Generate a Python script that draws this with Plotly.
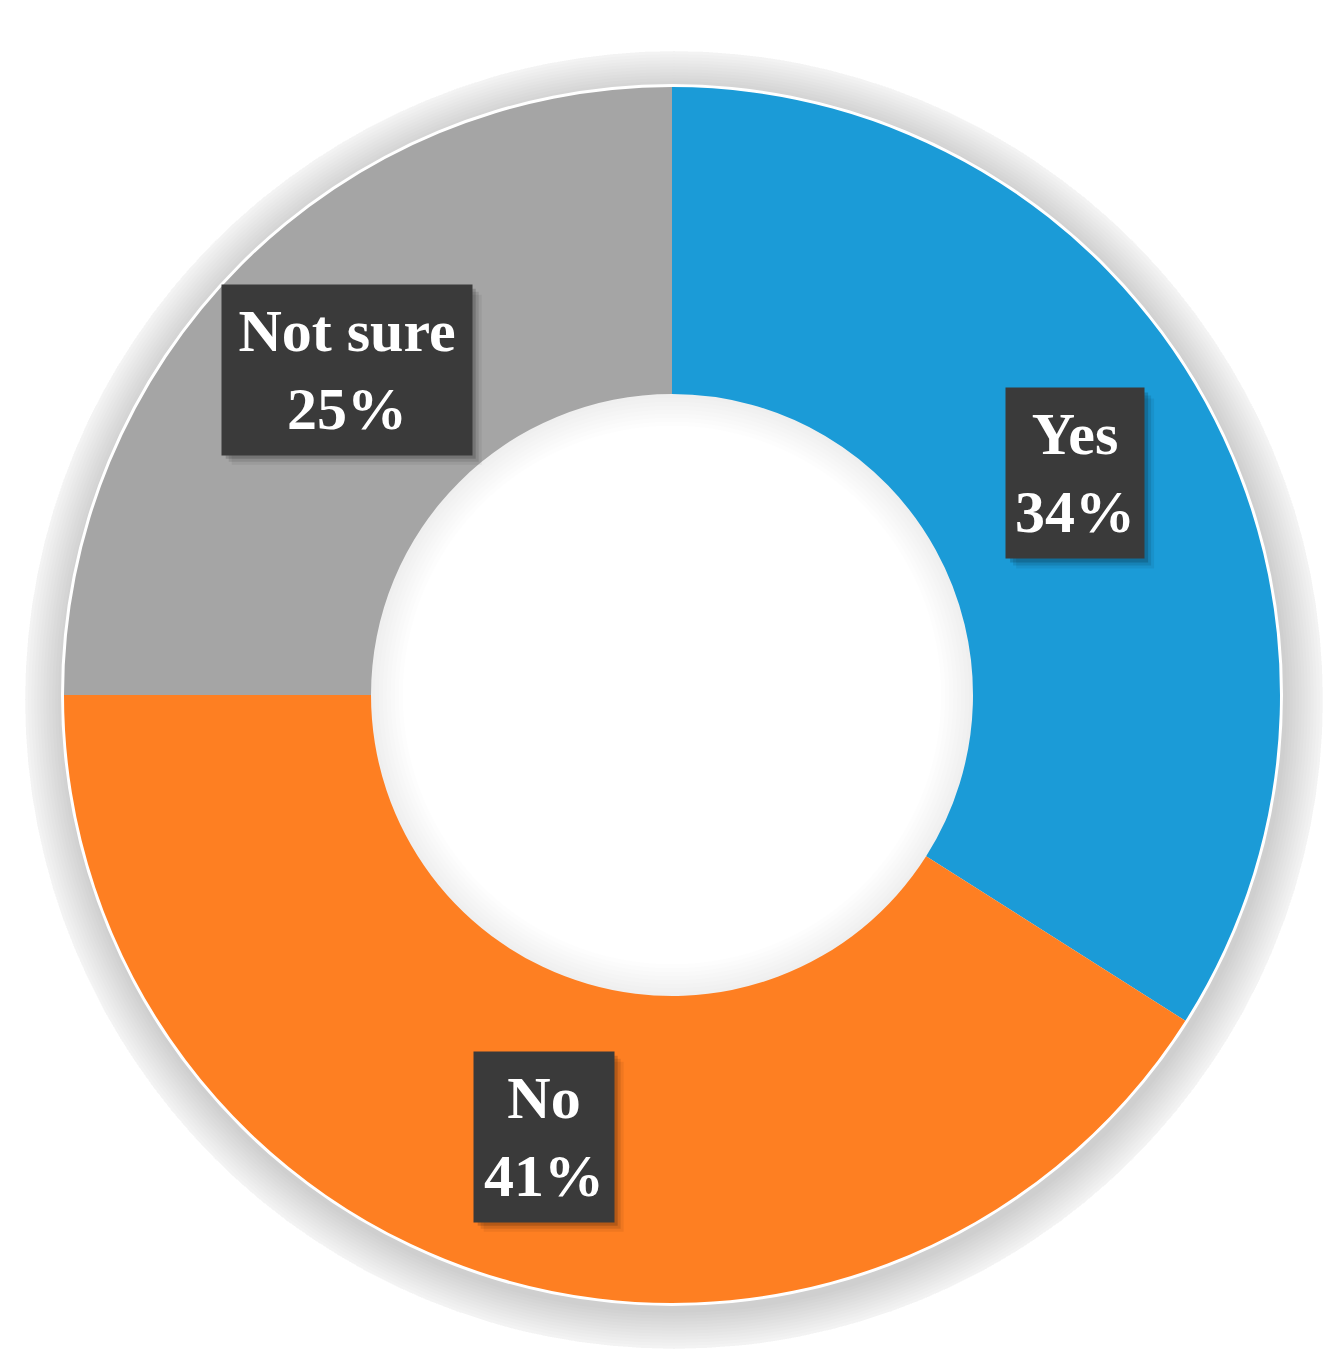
import math

import plotly.graph_objects as go

# Datos
labels = ["Yes", "No", "Not sure"]
values = [34, 41, 25]
slice_colors = ["#1b9bd7", "#fe7f22", "#a5a5a5"]

# Geometria (pixeles de la pagina; el body del html tiene margen de 8 px)
PAGE_W, PAGE_H = 1331, 1366
BODY_MARGIN = 8
W, H = PAGE_W - 2 * BODY_MARGIN, PAGE_H - 2 * BODY_MARGIN
CX, CY = 672 - BODY_MARGIN, 695 - BODY_MARGIN   # centro del donut (y desde arriba)
R_OUT = 608
R_HOLE = 301
R_LABEL = 460
BOX_H = 170
BOX_W = {"Yes": 138, "No": 140, "Not sure": 250}


def _domain(cx, cy, r):
    # recorta el radio para que el dominio quede dentro de [0, 1]
    r = min(r, cx, W - cx, cy, H - cy)
    return dict(x=[(cx - r) / W, (cx + r) / W],
                y=[(H - cy - r) / H, (H - cy + r) / H]), r


def _ring(cx, cy, r_out, r_in, color):
    dom, r = _domain(cx, cy, r_out)
    return go.Pie(
        values=[1], labels=["_"], sort=False,
        marker=dict(colors=[color], line=dict(width=0)),
        hole=max(r_in, 0) / r, domain=dom,
        textinfo="none", hoverinfo="skip", showlegend=False,
    )


fig = go.Figure()

# Sombra difusa exterior: anillos semitransparentes
for k in range(16, 0, -1):
    fig.add_trace(_ring(CX + 2, CY + 5, R_OUT + 2 + 3 * k, R_HOLE + 20,
                        "rgba(0,0,0,0.010)"))

# Sombra interior del agujero (se ve a traves del hueco)
for k in range(1, 9):
    fig.add_trace(_ring(CX, CY, R_HOLE + 2, R_HOLE - 4 * k,
                        "rgba(0,0,0,0.007)"))

# Borde blanco fino alrededor del donut
fig.add_trace(_ring(CX, CY, R_OUT + 3, R_HOLE + 20, "white"))

# Donut principal
dom, r = _domain(CX, CY, R_OUT)
fig.add_trace(go.Pie(
    labels=labels, values=values, sort=False,
    direction="clockwise", rotation=0,
    marker=dict(colors=slice_colors, line=dict(width=0)),
    hole=R_HOLE / r, domain=dom,
    textinfo="none", hovertemplate="%{label}: %{percent}<extra></extra>",
    showlegend=False,
))

# Etiquetas en cajas oscuras, centradas en el angulo medio de cada porcion
total = sum(values)
start = 0.0
for lab, val in zip(labels, values):
    frac = val / total
    mid = (start + frac / 2) * 2 * math.pi
    start += frac
    px = CX + R_LABEL * math.sin(mid)
    py = CY - R_LABEL * math.cos(mid)
    bw = BOX_W[lab]

    # sombra suave de la caja (rectangulos desplazados)
    for shift, alpha in [(10, 0.06), (7, 0.10), (4, 0.16)]:
        fig.add_shape(
            type="rect", xref="paper", yref="paper", layer="above",
            x0=(px - bw / 2 + shift) / W, x1=(px + bw / 2 + shift) / W,
            y0=(H - (py + BOX_H / 2 + shift)) / H,
            y1=(H - (py - BOX_H / 2 + shift)) / H,
            fillcolor=f"rgba(0,0,0,{alpha})", line=dict(width=0),
        )

    fig.add_annotation(
        x=px / W, y=(H - py) / H, xref="paper", yref="paper",
        xanchor="center", yanchor="middle", showarrow=False,
        text=f"{lab}<br>{round(frac * 100)}%",
        width=bw, height=BOX_H, borderpad=0, bgcolor="#3a3a3a",
        font=dict(family="Liberation Serif", size=60, weight="bold",
                  color="white"),
    )

fig.update_layout(
    width=W, height=H, autosize=False,
    margin=dict(l=0, r=0, t=0, b=0),
    paper_bgcolor="white", plot_bgcolor="white",
)

fig.write_html("out.html")
